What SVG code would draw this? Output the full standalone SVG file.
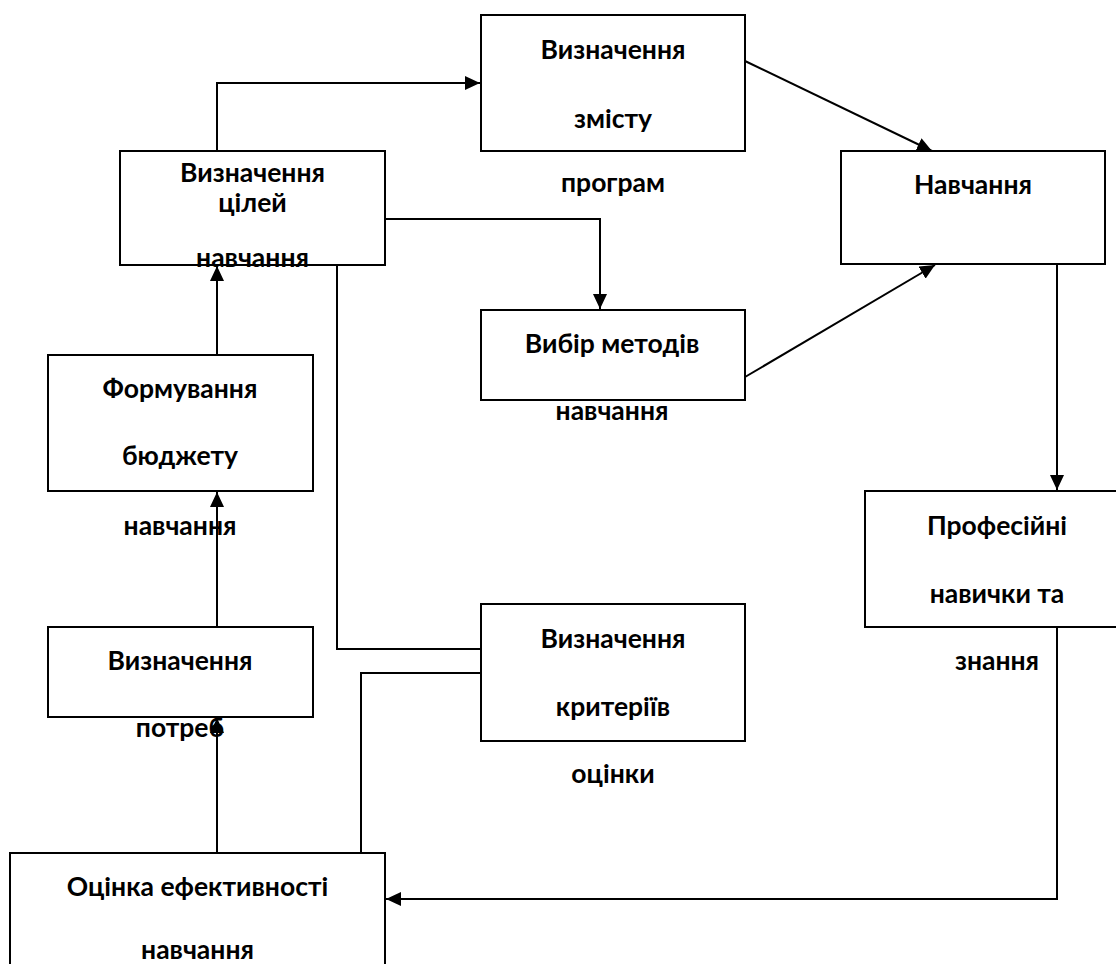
<svg xmlns="http://www.w3.org/2000/svg" width="1116" height="964" viewBox="0 0 1116 964">
<defs>
<marker id="arr" markerUnits="userSpaceOnUse" markerWidth="16" markerHeight="14" refX="15" refY="7" orient="auto">
<path d="M0,0 L15,7 L0,14 z" fill="#000"/>
</marker>
<style>
.box{fill:#fff;stroke:#000;stroke-width:2}
.t{font-family:Lato,"Liberation Sans",sans-serif;font-weight:bold;font-size:26.5px;fill:#000;text-anchor:middle}
.c{fill:none;stroke:#000;stroke-width:2}
.a{marker-end:url(#arr)}
</style>
</defs>
<rect width="1116" height="964" fill="#fff"/>
<g id="nodes-boxes">
<g id="nA"><rect class="box" x="120" y="151" width="265" height="114"/></g>
<g id="nB"><rect class="box" x="481" y="15" width="264" height="136"/></g>
<g id="nC"><rect class="box" x="841" y="151" width="264" height="113"/></g>
<g id="nD"><rect class="box" x="481" y="310" width="264" height="90"/></g>
<g id="nE"><rect class="box" x="48" y="355" width="265" height="136"/></g>
<g id="nF"><rect class="box" x="48" y="627" width="265" height="90"/></g>
<g id="nG"><rect class="box" x="481" y="604" width="264" height="137"/></g>
<g id="nH"><rect class="box" x="865" y="491" width="266" height="136"/></g>
<g id="nI"><rect class="box" x="10" y="853" width="375" height="120"/></g>
</g>
<g id="connectors">
<polyline class="c a" points="217,151 217,83 480,83"/>
<line class="c a" x1="745" y1="61" x2="932" y2="151"/>
<polyline class="c a" points="385,219 600,219 600,309"/>
<line class="c a" x1="745" y1="377" x2="935" y2="265"/>
<line class="c a" x1="1057" y1="264" x2="1057" y2="490"/>
<polyline class="c a" points="1057,627 1057,899 386,899"/>
<line class="c a" x1="217" y1="355" x2="217" y2="266"/>
<line class="c a" x1="217" y1="627" x2="217" y2="492"/>
<line class="c a" x1="217" y1="853" x2="217" y2="718"/>
<polyline class="c" points="337,265 337,649 481,649"/>
<polyline class="c" points="481,673 361,673 361,853"/>
</g>
<g id="labels">
<g id="tA"><text class="t" x="252.5" y="182">Визначення</text><text class="t" x="252.5" y="212">цілей</text><text class="t" x="252.5" y="267">навчання</text></g>
<g id="tB"><text class="t" x="613" y="59">Визначення</text><text class="t" x="613" y="128">змісту</text><text class="t" x="613" y="192">програм</text></g>
<g id="tC"><text class="t" x="973" y="194">Навчання</text></g>
<g id="tD"><text class="t" x="612" y="353">Вибір методів</text><text class="t" x="612" y="420">навчання</text></g>
<g id="tE"><text class="t" x="180" y="398">Формування</text><text class="t" x="180" y="465">бюджету</text><text class="t" x="180" y="535">навчання</text></g>
<g id="tF"><text class="t" x="180" y="670">Визначення</text><text class="t" x="180" y="737">потреб</text></g>
<g id="tG"><text class="t" x="613" y="648">Визначення</text><text class="t" x="613" y="716">критеріїв</text><text class="t" x="613" y="783">оцінки</text></g>
<g id="tH"><text class="t" x="997" y="535">Професійні</text><text class="t" x="997" y="603">навички та</text><text class="t" x="997" y="670">знання</text></g>
<g id="tI"><text class="t" x="197.5" y="896">Оцінка ефективності</text><text class="t" x="197.5" y="959">навчання</text></g>
</g>
</svg>
